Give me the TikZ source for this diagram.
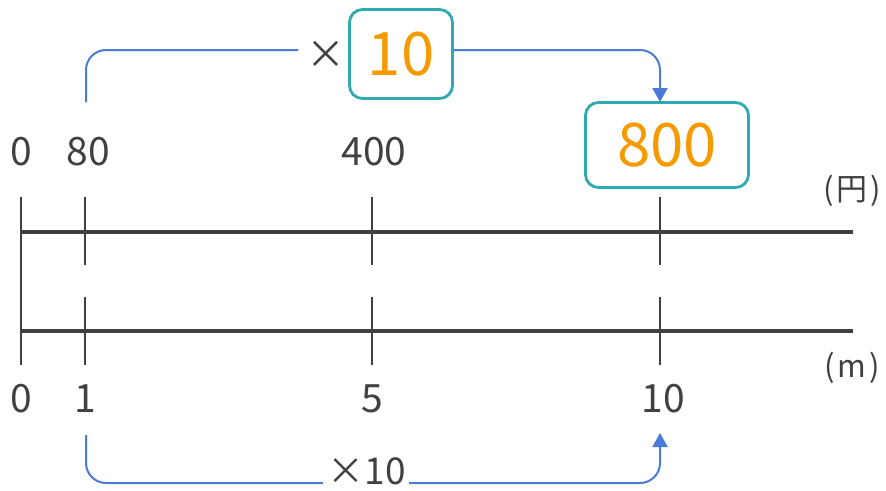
\documentclass[tikz,border=0pt]{standalone}
\usepackage{fontspec}
\setmainfont{Noto Sans CJK JP}
\usetikzlibrary{arrows.meta}
\definecolor{ink}{HTML}{404040}
\definecolor{teal}{HTML}{2EAAB0}
\definecolor{orng}{HTML}{F59A00}
\definecolor{blu}{HTML}{4A7BD6}
\tikzset{
  axisline/.style={draw=ink,line width=4pt},
  tickline/.style={draw=ink,line width=2.4pt},
  lbl/.style={text=ink,font=\fontsize{39}{39}\selectfont,inner sep=0pt,anchor=center},
  unitlbl/.style={text=ink,font=\fontsize{31}{31}\selectfont,inner sep=0pt,anchor=center},
  bigbox/.style={draw=teal,line width=2.8pt,rounded corners=13pt,text=orng,
    font=\fontsize{60}{60}\selectfont,inner sep=0pt,anchor=center},
  link/.style={draw=blu,line width=2pt,rounded corners=20pt},
  linkarrow/.style={link,-{Triangle[length=14pt,width=15pt]}}
}
\begin{document}
\begin{tikzpicture}[x=1pt,y=-1pt]
\useasboundingbox (0,0) rectangle (886,490);
% axes
\coordinate (a0) at (21,232); \coordinate (a1) at (853,232);
\coordinate (b0) at (21,331); \coordinate (b1) at (853,331);
\coordinate (z0) at (21,197); \coordinate (z1) at (21,365);
\draw[tickline] (z0) -- (z1);
\draw[axisline] (a0) -- (a1);
\draw[axisline] (b0) -- (b1);
\foreach \x/\n in {85/p,372/q,660/r}{
  \coordinate (t\n0) at (\x,197); \coordinate (t\n1) at (\x,265);
  \coordinate (u\n0) at (\x,297); \coordinate (u\n1) at (\x,365);
  \draw[tickline] (t\n0) -- (t\n1);
  \draw[tickline] (u\n0) -- (u\n1);
}
% top labels
\node[lbl] (y0) at (21,152) {0};
\node[lbl] (y80) at (88,152) {80};
\node[lbl] (y400) at (374,152) {400};
\node[bigbox,minimum width=163pt,minimum height=85pt] (y800) at (667,145) {800};
\node[unitlbl] (yen) at (852,191) {(\hspace{3pt}円\hspace{3pt})};
% bottom labels
\node[lbl] (m0) at (21,399) {0};
\node[lbl] (m1) at (85,399) {1};
\node[lbl] (m5) at (372,399) {5};
\node[lbl] (m10) at (663,399) {10};
\node[unitlbl] (munit) at (852,368) {(\hspace{3pt}m\hspace{3pt})};
% top multiplier
\node[lbl] (times) at (326,55) {×};
\node[bigbox,minimum width=103pt,minimum height=89pt] (ten) at (401,54) {10};
\coordinate (s1) at (86,102);
\coordinate (e1) at (660,102);
\draw[link] (s1) |- ([xshift=-8pt,yshift=5pt]times.west);
\draw[linkarrow] ([yshift=4pt]ten.east) -| (e1);
% bottom multiplier
\node[lbl,font=\fontsize{37}{37}\selectfont] (btimes) at (367,471) {×10};
\coordinate (s2) at (86,435);
\coordinate (e2) at (660,433);
\draw[link] (s2) |- ([xshift=-5pt,yshift=-12pt]btimes.west);
\draw[linkarrow] ([xshift=3pt,yshift=-12pt]btimes.east) -| (e2);
\end{tikzpicture}
\end{document}
